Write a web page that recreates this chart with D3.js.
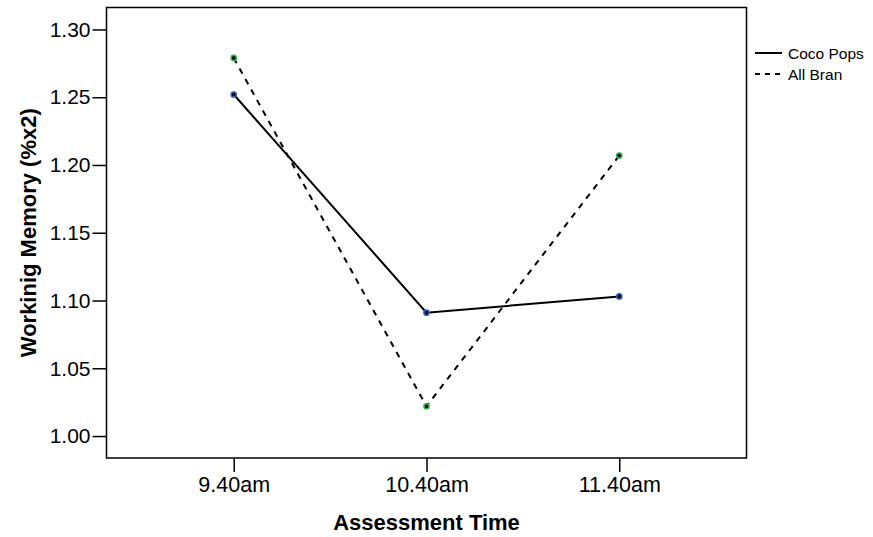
<!DOCTYPE html>
<html><head><meta charset="utf-8">
<script src="https://cdn.jsdelivr.net/npm/d3@7"></script>
<style>body{margin:0;background:#fff}svg{display:block}text{font-family:"Liberation Sans",Arial,sans-serif}</style>
</head><body><svg id="c" width="873" height="537"></svg>
<script>
const times = ["9.40am", "10.40am", "11.40am"];
const cocoPops = [1.252, 1.091, 1.103];
const allBran = [1.279, 1.022, 1.207];
const yTicks = [1.00, 1.05, 1.10, 1.15, 1.20, 1.25, 1.30];
const seriesNames = ["Coco Pops", "All Bran"];

const svg = d3.select("#c");
const L = 106.5, R = 746.5, T = 7.5, B = 458;
const x = d3.scalePoint().domain(times).range([L, R]).padding(0.66);
const y = d3.scaleLinear().domain([0.9838, 1.3162]).range([B, T]);

svg.append("rect").attr("x", L).attr("y", T).attr("width", R - L).attr("height", B - T)
  .attr("fill", "none").attr("stroke", "#000").attr("stroke-width", 1.5);

const ya = svg.append("g").attr("transform", `translate(${L},0)`)
  .call(d3.axisLeft(y).tickValues(yTicks).tickFormat(d3.format(".2f")).tickSize(14).tickPadding(2));
ya.select(".domain").remove();
ya.selectAll("line").attr("stroke", "#000").attr("stroke-width", 1.5);
ya.selectAll("text").attr("font-size", 21).attr("fill", "#000");

const xa = svg.append("g").attr("transform", `translate(0,${B})`)
  .call(d3.axisBottom(x).tickSize(14).tickPadding(5));
xa.select(".domain").remove();
xa.selectAll("line").attr("stroke", "#000").attr("stroke-width", 1.5);
xa.selectAll("text").attr("font-size", 21.5).attr("fill", "#000");

svg.append("text").attr("x", (L + R) / 2).attr("y", 530).attr("text-anchor", "middle")
  .attr("font-size", 22).attr("font-weight", "bold").text("Assessment Time");
svg.append("text").attr("transform", `translate(36,${(T + B) / 2}) rotate(-90)`).attr("text-anchor", "middle")
  .attr("font-size", 22).attr("font-weight", "bold").text("Workinig Memory (%x2)");

const line = d3.line().x((d, i) => x(times[i])).y(d => y(d));
const series = [
  {name: seriesNames[0], vals: cocoPops, dash: null, color: "#3a5bb5"},
  {name: seriesNames[1], vals: allBran, dash: "6,6", color: "#2fb34a"}
];
series.forEach(s => {
  svg.append("path").datum(s.vals).attr("d", line).attr("fill", "none")
    .attr("stroke", "#000").attr("stroke-width", 2).attr("stroke-dasharray", s.dash);
  svg.selectAll(null).data(s.vals).enter().append("circle")
    .attr("cx", (d, i) => x(times[i])).attr("cy", d => y(d)).attr("r", 2.6)
    .attr("fill", "#111").attr("stroke", s.color).attr("stroke-width", 1.5);
});

const lg = svg.append("g");
series.forEach((s, i) => {
  const yy = 53 + i * 21;
  lg.append("line").attr("x1", 755).attr("x2", 782).attr("y1", yy).attr("y2", yy)
    .attr("stroke", "#000").attr("stroke-width", 2).attr("stroke-dasharray", s.dash ? "5,5" : null);
  lg.append("text").attr("x", 788).attr("y", yy + 5.5).attr("font-size", 15.5).text(s.name);
});
</script></body></html>
